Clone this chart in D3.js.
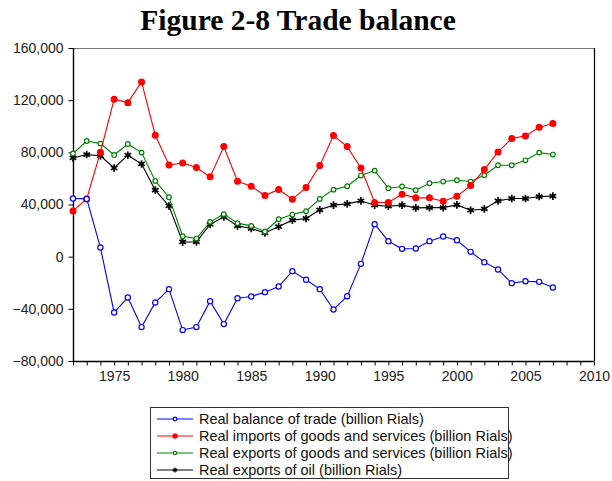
<!DOCTYPE html>
<html lang="en">
<head>
    <meta charset="UTF-8">
    <title>Figure 2-8 Trade balance</title>

    <!-- Load d3.js -->
    <script src="https://d3js.org/d3.v7.min.js"></script>

    <style>
        body { margin: 0; background: #ffffff; }
        svg { display: block; }
    </style>
</head>
<body>

    <div id="chart"></div>

    <script>

        // Data
        var years = d3.range(1972, 2008);

        var balance = [44600, 44300, 7000, -42800, -31300, -54000, -35100, -24900, -56300, -54000,
            -34100, -51700, -31800, -30500, -27200, -22900, -11100, -17700, -24900, -40500,
            -30300, -5500, 24900, 11900, 6000, 6300, 11900, 15500, 12600, 3700,
            -4200, -9800, -20300, -18800, -19300, -23600];

        var imports = [35100, 44300, 80100, 120700, 118100, 134000, 93100, 70300, 71900, 68300,
            61200, 84400, 57800, 54000, 46900, 51500, 44100, 53000, 69900, 92900,
            84400, 68000, 41500, 41500, 47900, 45100, 45100, 42500, 46400, 54500,
            66800, 80300, 90600, 92600, 99200, 102100];

        var exports = [79100, 88700, 86700, 78000, 86400, 79800, 58100, 45600, 15700, 13900,
            26700, 32600, 25700, 23600, 19300, 28700, 32300, 34900, 44300, 51400,
            54000, 62200, 66000, 52500, 53800, 51000, 56300, 57600, 58600, 57600,
            62400, 70100, 70100, 73900, 79800, 78300];

        var oil = [75700, 78300, 77300, 68000, 77800, 71100, 51000, 38900, 11300, 11300,
            24700, 30500, 23600, 21600, 18200, 23100, 28000, 29300, 35900, 39500,
            40500, 42800, 39500, 38700, 39500, 37400, 37600, 37600, 39700, 35600,
            36600, 42800, 44600, 44600, 46100, 46400];

        var y_ticks = [-80000, -40000, 0, 40000, 80000, 120000, 160000];
        var x_ticks = [1975, 1980, 1985, 1990, 1995, 2000, 2005, 2010];

        var series = [
            {name: "Real balance of trade (billion Rials)", values: balance, color: "#0000ff", marker: "open", r: 2.6},
            {name: "Real imports of goods and services (billion Rials)", values: imports, color: "#ff0000", marker: "dot", r: 2.9},
            {name: "Real exports of goods and services (billion Rials)", values: exports, color: "#008000", marker: "open", r: 2.3},
            {name: "Real exports of oil (billion Rials)", values: oil, color: "#000000", marker: "star", r: 3.2}
        ];

        var width = 612, height = 481;
        var plot = {left: 73, right: 594, top: 48, bottom: 361};
        var font_sans = "'Liberation Sans', Arial, sans-serif";

        var svg = d3.select("#chart")
            .append("svg")
                .attr("width", width)
                .attr("height", height);

        // Title
        svg.append("text")
            .attr("x", 298)
            .attr("y", 30)
            .attr("text-anchor", "middle")
            .style("font-family", "'Liberation Serif', 'Times New Roman', serif")
            .style("font-weight", "bold")
            .style("font-size", "29.5px")
            .text("Figure 2-8 Trade balance");

        // Scales
        var x = d3.scaleLinear()
            .domain([1972, 2010])
            .range([plot.left, plot.right]);

        var y = d3.scaleLinear()
            .domain([-80000, 160000])
            .range([plot.bottom, plot.top]);

        // Frame (top and right)
        svg.append("line")
            .attr("x1", plot.left).attr("x2", plot.right)
            .attr("y1", plot.top + 0.5).attr("y2", plot.top + 0.5)
            .attr("stroke", "#777").attr("stroke-width", 1.2);
        svg.append("line")
            .attr("x1", plot.right + 0.5).attr("x2", plot.right + 0.5)
            .attr("y1", plot.top).attr("y2", plot.bottom)
            .attr("stroke", "#000").attr("stroke-width", 1.2);

        // Y axis
        var y_axis = svg.append("g")
            .attr("transform", "translate(" + (plot.left + 0.5) + ",0)")
            .call(d3.axisLeft(y)
                .tickValues(y_ticks)
                .tickSize(5)
                .tickPadding(5)
                .tickFormat(d3.format(",")));

        // X axis: a tick every year, labels every 5 years
        var x_axis = svg.append("g")
            .attr("transform", "translate(0," + (plot.bottom + 0.5) + ")")
            .call(d3.axisBottom(x)
                .tickValues(d3.range(1972, 2011))
                .tickSize(4)
                .tickPadding(6)
                .tickFormat(function(d) { return x_ticks.indexOf(d) >= 0 ? d : ""; }));

        [y_axis, x_axis].forEach(function(ax) {
            ax.select(".domain").attr("stroke", "#000").attr("stroke-width", 1.4);
            ax.selectAll(".tick line").attr("stroke", "#000");
            ax.selectAll("text")
                .style("font-family", font_sans)
                .style("font-size", "14px")
                .attr("fill", "#222");
        });
        y_axis.select(".domain").attr("d", "M0," + plot.bottom + "V" + plot.top);
        x_axis.select(".domain").attr("d", "M" + plot.left + ",0H" + plot.right);

        // Markers
        var star = d3.symbol().type(d3.symbolAsterisk).size(40);

        function draw_markers(g, s, data) {
            if (s.marker === "star") {
                g.selectAll("path.mk")
                    .data(data)
                    .enter()
                    .append("path")
                        .attr("class", "mk")
                        .attr("d", star)
                        .attr("transform", function(d) { return "translate(" + d.x + "," + d.y + ")"; })
                        .attr("stroke", s.color)
                        .attr("stroke-width", 1.7)
                        .attr("fill", "none");
            } else {
                g.selectAll("circle")
                    .data(data)
                    .enter()
                    .append("circle")
                        .attr("cx", function(d) { return d.x; })
                        .attr("cy", function(d) { return d.y; })
                        .attr("r", s.r)
                        .attr("fill", s.marker === "dot" ? s.color : "#fff")
                        .attr("stroke", s.color)
                        .attr("stroke-width", 1.2);
            }
        }

        var line = d3.line()
            .x(function(d) { return d.x; })
            .y(function(d) { return d.y; });

        // Draw series (last one first so blue/red stay on top)
        series.slice().reverse().forEach(function(s) {
            var data = years.map(function(yr, i) { return {x: x(yr), y: y(s.values[i])}; });
            var g = svg.append("g");
            g.append("path")
                .datum(data)
                .attr("d", line)
                .attr("fill", "none")
                .attr("stroke", s.color)
                .attr("stroke-width", 1.1);
            draw_markers(g, s, data);
        });

        // Legend
        var legend = svg.append("g");
        legend.append("rect")
            .attr("x", 150.5).attr("y", 407.5)
            .attr("width", 358).attr("height", 71)
            .attr("fill", "#fff")
            .attr("stroke", "#333");

        series.forEach(function(s, i) {
            var ly = 419 + i * 17;
            var lg = legend.append("g");
            lg.append("line")
                .attr("x1", 157).attr("x2", 193)
                .attr("y1", ly).attr("y2", ly)
                .attr("stroke", s.color)
                .attr("stroke-width", 1.1);
            var sub = {marker: s.marker, color: s.color, r: s.r * 0.7};
            if (s.marker === "star") {
                lg.append("path")
                    .attr("d", d3.symbol().type(d3.symbolAsterisk).size(18))
                    .attr("transform", "translate(175," + ly + ")")
                    .attr("stroke", s.color)
                    .attr("stroke-width", 1.3)
                    .attr("fill", "none");
            } else {
                draw_markers(lg, sub, [{x: 175, y: ly}]);
            }
            lg.append("text")
                .attr("x", 199)
                .attr("y", ly + 5)
                .style("font-family", font_sans)
                .style("font-size", "14.5px")
                .attr("fill", "#111")
                .text(s.name);
        });

    </script>

</body>
</html>
